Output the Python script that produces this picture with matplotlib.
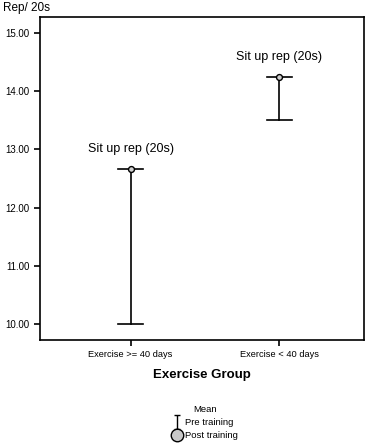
import matplotlib
matplotlib.use('Agg')
import matplotlib.pyplot as plt
from matplotlib.lines import Line2D
from matplotlib.path import Path

plt.rcParams['font.family'] = ['Liberation Sans', 'DejaVu Sans']

groups = ['Exercise >= 40 days', 'Exercise < 40 days']
pre_training = [10.0, 13.5]
post_training = [12.67, 14.25]
label = 'Sit up rep (20s)'

fig = plt.figure(figsize=(3.7, 4.45), dpi=100)
ax = fig.add_axes([0.108, 0.236, 0.876, 0.726])

x = list(range(len(groups)))
for i in x:
    lo, hi = pre_training[i], post_training[i]
    ax.plot([i, i], [lo, hi], color='black', lw=1.2, zorder=2)
    ax.plot([i - 0.085, i + 0.085], [lo, lo], color='black', lw=1.2, zorder=2)
    ax.plot([i - 0.085, i + 0.085], [hi, hi], color='black', lw=1.2, zorder=2)
    ax.scatter([i], [hi], s=18, facecolor='#d0d0d0', edgecolor='black', linewidths=1.0, zorder=3)
    ax.text(i, hi + 0.24, label, ha='center', va='bottom', fontsize=9)

ax.set_xlim(-0.61, 1.57)
ax.set_ylim(9.725, 15.275)
ax.set_yticks([10, 11, 12, 13, 14, 15])
ax.set_yticklabels(['%.2f' % v for v in [10, 11, 12, 13, 14, 15]], fontsize=7)
ax.set_xticks(x)
ax.set_xticklabels(groups, fontsize=6.7)
ax.tick_params(axis='both', length=4, width=1.2, color='black')
for s in ax.spines.values():
    s.set_linewidth(1.2)

ax.set_xlabel('Exercise Group', fontsize=9.5, fontweight='bold', labelpad=7)
fig.text(0.008, 0.982, 'Rep/ 20s', fontsize=8.5, ha='left', va='center')

ibeam = Path([(-0.25, -0.5), (0.25, -0.5), (0, -0.5), (0, 0.5), (-0.25, 0.5), (0.25, 0.5)],
             [Path.MOVETO, Path.LINETO, Path.MOVETO, Path.LINETO, Path.MOVETO, Path.LINETO])
handles = [
    Line2D([0], [0], color='black', lw=0, marker=ibeam, markersize=10,
           markeredgewidth=1.0),
    Line2D([0], [0], color='black', lw=0, marker='o', markersize=9,
           markerfacecolor='#c8c8c8', markeredgecolor='black', markeredgewidth=1.0),
]
leg = fig.legend(handles, ['Pre training', 'Post training'], title='Mean',
                 loc='center', bbox_to_anchor=(0.555, 0.05), frameon=False,
                 fontsize=6.8, title_fontsize=6.8, handlelength=0.9,
                 handletextpad=0.4, labelspacing=0.45, borderpad=0)

fig.savefig('out.png', dpi=100)
